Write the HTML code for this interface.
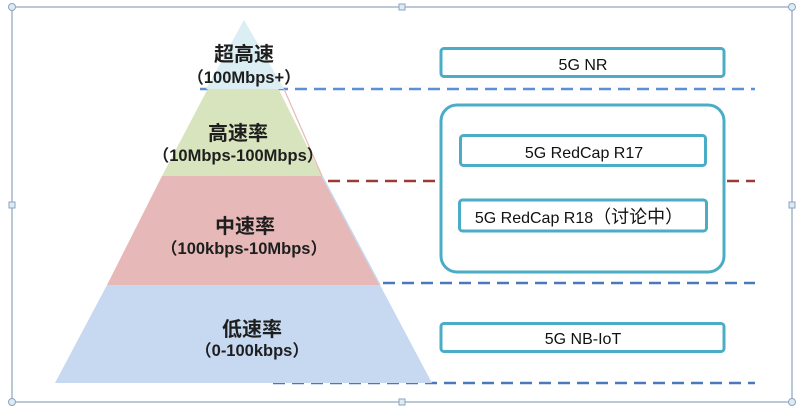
<!DOCTYPE html>
<html>
<head>
<meta charset="utf-8">
<style>
html,body{margin:0;padding:0;background:#fff;}
svg{display:block;}
.t{font-family:"Liberation Sans","Noto Sans CJK SC",sans-serif;}
</style>
</head>
<body>
<svg width="800" height="413" viewBox="0 0 800 413" xmlns="http://www.w3.org/2000/svg">
  <!-- frame -->
  <rect x="12" y="7" width="780" height="395" fill="none" stroke="#8ea3bf" stroke-width="1.2"/>

  <!-- dashed lines (behind shapes) -->
  <line x1="200" y1="89" x2="755" y2="89" stroke="#5b8fd6" stroke-width="2.6" stroke-dasharray="12,7"/>
  <line x1="328" y1="181" x2="755" y2="181" stroke="#9b3b38" stroke-width="2.6" stroke-dasharray="12,7"/>
  <line x1="383" y1="283" x2="755" y2="283" stroke="#4a78bd" stroke-width="2.6" stroke-dasharray="12,7"/>
  <line x1="273" y1="383" x2="755" y2="383" stroke="#4a78bd" stroke-width="2.6" stroke-dasharray="12,7"/>

  <!-- pyramid -->
  <polygon points="244,20 162,176 322,176" fill="#d7e4bd"/>
  <polygon points="244,20 206,89 284,89" fill="#dbeef4"/>
  <polygon points="162,176 322,176 380,285 107,285" fill="#e6b9b8"/>
  <polygon points="107,285 380,285 432,383 55,383" fill="#c6d9f1"/>
  <line x1="322" y1="176" x2="380" y2="285" stroke="#c6d9f1" stroke-width="1.5"/>
  <line x1="284" y1="89" x2="322" y2="176" stroke="#e6b9b8" stroke-width="1.2"/>

  <!-- pyramid text -->
  <g class="t" font-weight="bold" fill="#1e1e1e" text-anchor="middle">
    <text x="244" y="61" font-size="20">超高速</text>
    <text x="244" y="83" font-size="16.5">（100Mbps+）</text>
    <text x="238" y="140" font-size="20">高速率</text>
    <text x="238" y="161" font-size="16.5">（10Mbps-100Mbps）</text>
    <text x="245" y="233" font-size="20">中速率</text>
    <text x="244" y="254" font-size="16.5">（100kbps-10Mbps）</text>
    <text x="252" y="336" font-size="20">低速率</text>
    <text x="252" y="356" font-size="16.5">（0-100kbps）</text>
  </g>

  <!-- right boxes -->
  <g fill="#fff" stroke="#4bacc6" stroke-width="3">
    <rect x="441" y="48.5" width="283" height="28" rx="3"/>
    <rect x="441" y="105" width="283" height="167" rx="16"/>
    <rect x="460.5" y="135.5" width="245" height="30" rx="3"/>
    <rect x="459.5" y="200" width="247" height="31" rx="3"/>
    <rect x="441" y="323.5" width="283" height="28" rx="3"/>
  </g>

  <g class="t" fill="#111" text-anchor="middle" font-size="16">
    <text x="583" y="70">5G NR</text>
    <text x="584" y="158">5G RedCap R17</text>
    <text x="579" y="223">5G RedCap R18<tspan font-size="18">（讨论中）</tspan></text>
    <text x="583" y="344">5G NB-IoT</text>
  </g>

  <!-- selection handles -->
  <g fill="#dcecf5" stroke="#8ea3bf" stroke-width="1">
    <circle cx="12" cy="7" r="3.5"/>
    <circle cx="792" cy="7" r="3.5"/>
    <circle cx="12" cy="402" r="3.5"/>
    <circle cx="792" cy="402" r="3.5"/>
    <rect x="399" y="4" width="6" height="6"/>
    <rect x="9" y="202" width="6" height="6"/>
    <rect x="789" y="202" width="6" height="6"/>
    <rect x="399" y="399" width="6" height="6"/>
  </g>
</svg>
</body>
</html>
